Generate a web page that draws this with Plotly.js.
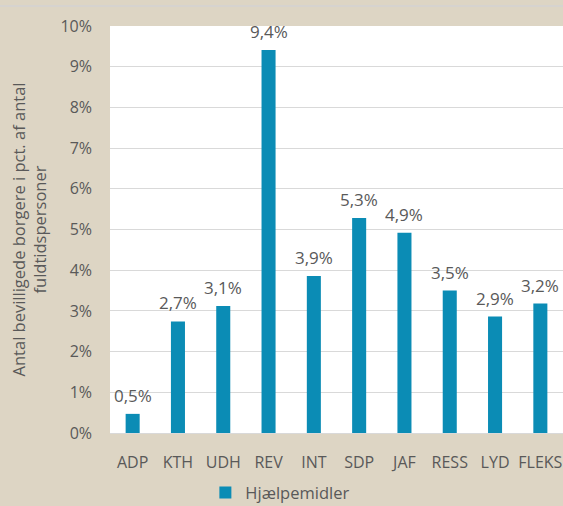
<!DOCTYPE html>
<html>
<head>
<meta charset="utf-8">
<script src="https://cdn.plot.ly/plotly-3.0.1.min.js"></script>
<style>html,body{margin:0;padding:0;background:#ddd5c4;}#chart{width:563px;height:506px;}</style>
</head>
<body>
<div id="chart"></div>
<script>
const categories = ["ADP", "KTH", "UDH", "REV", "INT", "SDP", "JAF", "RESS", "LYD", "FLEKS"];
const values = [0.47, 2.74, 3.12, 9.41, 3.86, 5.28, 4.92, 3.50, 2.86, 3.18];
const seriesName = "Hjælpemidler";
const yTickVals = [0, 1, 2, 3, 4, 5, 6, 7, 8, 9, 10];
const yTickText = ["0%", "1%", "2%", "3%", "4%", "5%", "6%", "7%", "8%", "9%", "10%"];

const fontFam = "'Open Sans', Lato, sans-serif";
const grey = "#595959";

const trace = {
  type: "bar",
  x: categories,
  y: values,
  name: seriesName,
  marker: {color: "#0b8cb5"},
  hoverinfo: "x+y"
};

const annotations = categories.map((c, i) => ({
  x: c, y: values[i], xref: "x", yref: "y",
  text: values[i].toFixed(1).replace(".", ",") + "%",
  showarrow: false, yanchor: "bottom", yshift: 5,
  font: {family: fontFam, size: 17, color: grey}
}));

const layout = {
  width: 563, height: 506,
  margin: {l: 110, r: 0, t: 26, b: 73},
  paper_bgcolor: "#ddd5c4",
  plot_bgcolor: "#ffffff",
  separators: ",.",
  bargap: 0.69,
  showlegend: true,
  font: {family: fontFam, color: grey},
  xaxis: {
    type: "category",
    tickfont: {family: fontFam, size: 16, color: grey},
    ticks: "",
    ticklabelstandoff: 15,
    showline: true, linecolor: "#d9d9d9", linewidth: 1,
    automargin: false
  },
  yaxis: {
    range: [0, 10],
    tickvals: yTickVals,
    ticktext: yTickText,
    tickfont: {family: fontFam, size: 16, color: grey},
    gridcolor: "#d9d9d9", gridwidth: 1,
    zeroline: false,
    ticks: "",
    ticklabelstandoff: 17,
    automargin: false,
    title: {
      text: "Antal bevilligede borgere i pct. af antal<br>fuldtidspersoner",
      font: {family: fontFam, size: 16.5, color: grey},
      standoff: 9
    }
  },
  legend: {
    orientation: "h",
    xref: "container", yref: "container",
    x: 0.498, xanchor: "center",
    y: 0.026, yanchor: "middle",
    font: {family: fontFam, size: 16.5, color: grey},
    bgcolor: "rgba(0,0,0,0)",
    itemwidth: 30
  },
  annotations: annotations,
  shapes: [{
    type: "line", xref: "paper", yref: "paper",
    x0: -110/453, x1: 1, y0: 1 + 20/407, y1: 1 + 20/407,
    line: {color: "#d6d3cf", width: 2}
  }]
};

Plotly.newPlot("chart", [trace], layout, {displayModeBar: false, staticPlot: true});
</script>
</body>
</html>
